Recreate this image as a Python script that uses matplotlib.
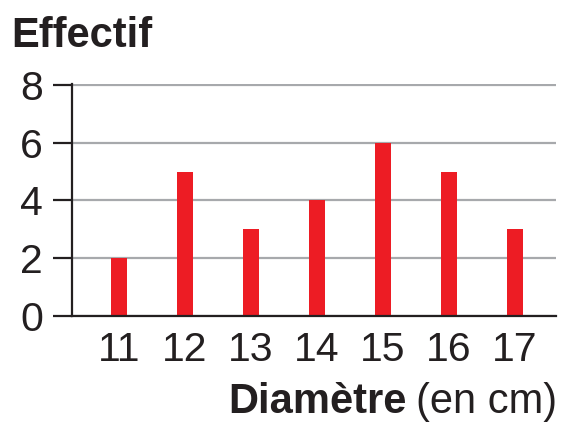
import matplotlib
matplotlib.use('Agg')
import matplotlib.pyplot as plt

# data
diametres = [11, 12, 13, 14, 15, 16, 17]
effectifs = [2, 5, 3, 4, 6, 5, 3]
yticks = [0, 2, 4, 6, 8]

plt.rcParams['font.family'] = ['Liberation Sans', 'DejaVu Sans']

W, H = 562, 424
fig = plt.figure(figsize=(W / 100, H / 100), dpi=100)
ax = fig.add_axes([72 / W, (H - 316) / H, (556 - 72) / W, (316 - 84) / H])

ax.bar(diametres, effectifs, width=0.24, color='#ed1c24', zorder=3)

ax.set_xlim(10.29, 17.62)
ax.set_ylim(0, 8.03)
ax.set_yticks(yticks)
ax.set_xticks(diametres)
ax.set_yticklabels([str(v) for v in yticks], fontsize=29.5, color='#231f20')
ax.set_xticklabels([str(v) for v in diametres], fontsize=29.5, color='#231f20')
ax.tick_params(axis='y', length=14, width=1.6, direction='out', pad=7, color='#231f20')
ax.tick_params(axis='x', length=0, pad=11)

ax.yaxis.grid(True, color='#a7a9ac', linewidth=1.6, zorder=1)
ax.set_axisbelow(True)
for s in ['top', 'right']:
    ax.spines[s].set_visible(False)
for s in ['left', 'bottom']:
    ax.spines[s].set_linewidth(1.6)
    ax.spines[s].set_color('#231f20')
    ax.spines[s].set_zorder(4)

fig.text(11 / W, 1 - 47 / H, 'Effectif', fontsize=30, fontweight='bold',
         color='#231f20', va='baseline', ha='left')

# x label: bold "Diamètre" followed by regular "(en cm)"
r = fig.canvas.get_renderer()
t2 = fig.text(557 / W, 1 - 413 / H, '(en cm)', fontsize=30, color='#231f20',
              va='baseline', ha='right')
bb = t2.get_window_extent(renderer=r)
fig.text((bb.x0 - 9) / W, 1 - 413 / H, 'Diamètre', fontsize=30, fontweight='bold',
         color='#231f20', va='baseline', ha='right')

fig.savefig('out.png', dpi=100)
